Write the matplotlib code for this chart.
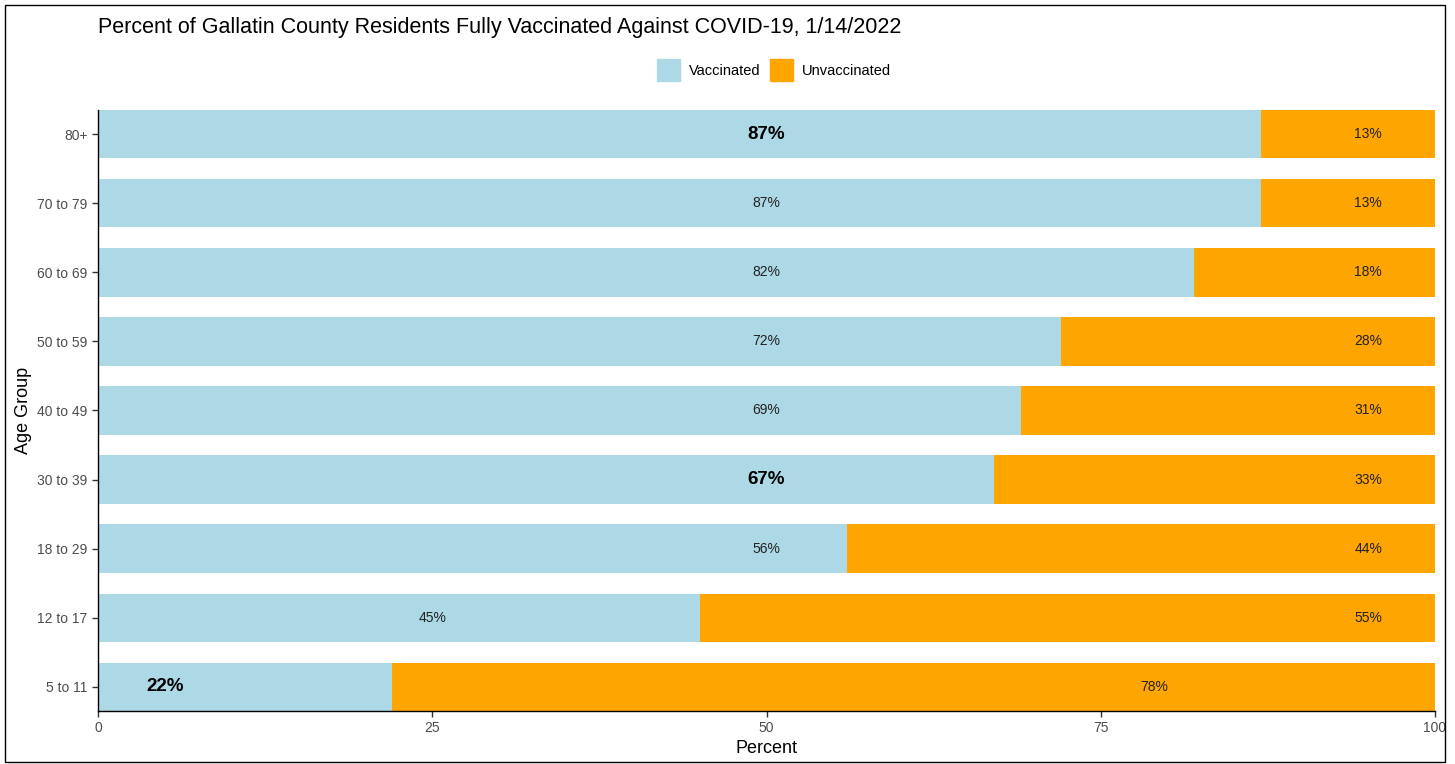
import matplotlib.pyplot as plt
from matplotlib.patches import Rectangle, Patch
import numpy as np

plt.rcParams['font.family'] = ['Liberation Sans', 'DejaVu Sans']

ageGroups = ["80+", "70 to 79", "60 to 69", "50 to 59", "40 to 49",
             "30 to 39", "18 to 29", "12 to 17", "5 to 11"]
vaccinated = [87, 87, 82, 72, 69, 67, 56, 45, 22]
unvaccinated = [13, 13, 18, 28, 31, 33, 44, 55, 78]
highlight = [True, False, False, False, False, True, False, False, True]

# where the percent labels sit along the x axis
vaxLabelX = [50, 50, 50, 50, 50, 50, 50, 25, 5]
unvaxLabelX = [95, 95, 95, 95, 95, 95, 95, 95, 79]

cVax = '#ADD8E6'
cUnvax = '#FFA500'

fig = plt.figure(figsize=(14.55, 7.64), dpi=100)
ax = fig.add_axes([98/1455, 53/764, 1337/1455, 601/764])

y = np.arange(len(ageGroups))[::-1]
ax.barh(y, vaccinated, height=0.7, color=cVax)
ax.barh(y, unvaccinated, left=vaccinated, height=0.7, color=cUnvax)

for i in range(len(ageGroups)):
    if highlight[i]:
        ax.text(vaxLabelX[i], y[i], f"{vaccinated[i]}%", ha='center', va='center',
                fontsize=13.5, fontweight='bold', color='black')
    else:
        ax.text(vaxLabelX[i], y[i], f"{vaccinated[i]}%", ha='center', va='center',
                fontsize=10, color='#222222')
    ax.text(unvaxLabelX[i], y[i], f"{unvaccinated[i]}%", ha='center', va='center',
            fontsize=10, color='#222222')

ax.set_xlim(0, 100)
ax.set_ylim(-0.35, len(ageGroups) - 1 + 0.35)
ax.set_yticks(y)
ax.set_yticklabels(ageGroups)
ax.set_xticks([0, 25, 50, 75, 100])
ax.tick_params(axis='both', colors='#333333', labelcolor='#4D4D4D',
               labelsize=10, length=4, width=1)
for s in ['top', 'right']:
    ax.spines[s].set_visible(False)
for s in ['left', 'bottom']:
    ax.spines[s].set_linewidth(1)
    ax.spines[s].set_color('black')

ax.set_xlabel("Percent", fontsize=13, labelpad=3)
ax.set_ylabel("Age Group", fontsize=13, labelpad=4)

fig.text(98/1455, 1 - 27/764, "Percent of Gallatin County Residents Fully Vaccinated Against COVID-19, 1/14/2022",
         fontsize=15.5, ha='left', va='center')

handles = [Patch(color=cVax), Patch(color=cUnvax)]
fig.legend(handles, ["Vaccinated", "Unvaccinated"], loc='center',
           bbox_to_anchor=(774/1455, 1 - 70/764), ncol=2, frameon=False,
           fontsize=10.5, handlelength=1.55, handleheight=1.9,
           handletextpad=0.6, columnspacing=0.7)

# outer border around the whole figure
fig.patches.append(Rectangle((5/1455, 0.002), 1440/1455, 1 - 7/764, transform=fig.transFigure,
                             fill=False, edgecolor='black', linewidth=1))

fig.savefig("out.png", dpi=100)
